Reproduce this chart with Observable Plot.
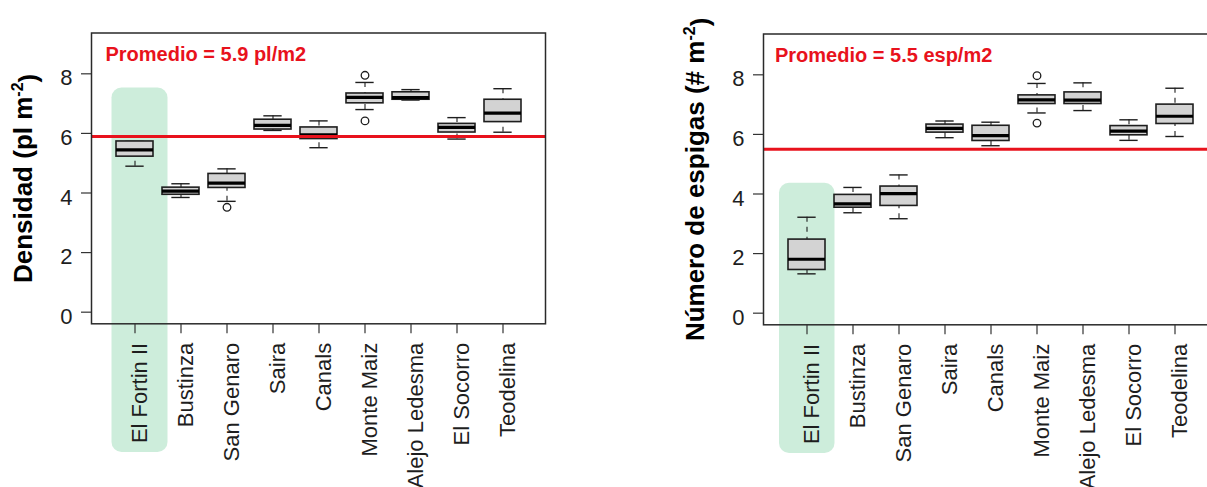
<!DOCTYPE html>
<html>
<head>
<meta charset="utf-8">
<script src="https://cdn.jsdelivr.net/npm/d3@7"></script>
<script src="https://cdn.jsdelivr.net/npm/@observablehq/plot@0.6"></script>
<style>
  html, body { margin: 0; padding: 0; background: #fff; }
  #wrap { position: relative; width: 1207px; height: 487px; overflow: hidden; background: #fff; }
  .panel { position: absolute; top: 0; width: 600px; height: 487px; }
  .panel svg { max-width: none !important; display: block; }
</style>
</head>
<body>
<div id="wrap">
  <div class="panel" id="left" style="left:0px"></div>
  <div class="panel" id="right" style="left:672px; top:0.7px"></div>
</div>
<script>
// Sitios (localidades)
const sites = ["El Fortin II", "Bustinza", "San Genaro", "Saira", "Canals",
               "Monte Maiz", "Alejo Ledesma", "El Socorro", "Teodelina"];

// Densidad de plantas (pl m-2): resumen de cada caja
const densLow    = [4.90, 3.85, 3.72, 6.10, 5.52, 6.80, 7.12, 5.81, 6.04];
const densQ1     = [5.22, 3.94, 4.17, 6.13, 5.81, 7.01, 7.13, 6.03, 6.38];
const densMedian = [5.45, 4.06, 4.33, 6.27, 5.95, 7.21, 7.20, 6.20, 6.68];
const densQ3     = [5.73, 4.18, 4.64, 6.46, 6.20, 7.34, 7.38, 6.32, 7.13];
const densHigh   = [5.73, 4.31, 4.81, 6.59, 6.42, 7.71, 7.47, 6.53, 7.50];
const densOutSite  = ["San Genaro", "Monte Maiz", "Monte Maiz"];
const densOutValue = [3.52, 7.95, 6.42];
const densMean = 5.9;

// Número de espigas (# m-2): resumen de cada caja
const espLow    = [1.32, 3.37, 3.17, 5.89, 5.62, 6.72, 6.80, 5.80, 5.93];
const espQ1     = [1.45, 3.54, 3.60, 6.06, 5.78, 7.02, 7.02, 5.97, 6.35];
const espMedian = [1.81, 3.67, 4.01, 6.20, 5.96, 7.16, 7.15, 6.11, 6.61];
const espQ3     = [2.47, 3.97, 4.25, 6.33, 6.29, 7.31, 7.41, 6.28, 7.00];
const espHigh   = [3.22, 4.22, 4.64, 6.45, 6.41, 7.71, 7.73, 6.49, 7.55];
const espOutSite  = ["Monte Maiz", "Monte Maiz"];
const espOutValue = [7.97, 6.38];
const espMean = 5.5;

const yTicks = [0, 2, 4, 6, 8];
const highlightSite = "El Fortin II";

const RED = "#e8121c";
const INK = "#1e1e1e";
const FONT = "'Liberation Sans', Arial, Helvetica, sans-serif";

function boxPanel(cfg) {
  const rows = sites.map((s, i) => ({
    site: s, low: cfg.low[i], q1: cfg.q1[i], median: cfg.median[i], q3: cfg.q3[i], high: cfg.high[i]
  }));
  const outliers = cfg.outSite.map((s, i) => ({site: s, value: cfg.outValue[i]}));
  const meanText = `Promedio = ${cfg.mean} ${cfg.unit}`;
  const title = `${cfg.titleMain}-2)`;

  const width = 600, height = 487;
  const mL = 91, mR = 55, mT = 32.5, mB = 163.7;
  const step = (width - mL - mR) / (sites.length - 0.2 + 2 * 0.46);
  const staple = step * 0.8 / 4;

  const svg = Plot.plot({
    width, height,
    marginLeft: mL, marginRight: mR, marginTop: mT, marginBottom: mB,
    style: {fontFamily: FONT, fontSize: "22px", color: INK, background: "transparent", overflow: "visible"},
    x: {type: "band", domain: sites, paddingInner: 0.2, paddingOuter: 0.46},
    y: {domain: [-0.39, 9.37]},
    marks: [
      // franja destacada detrás del sitio
      Plot.barY([highlightSite], {
        x: d => d, y1: cfg.hlTop, y2: -4.71, fill: "#cdeddb", rx: 10,
        insetLeft: cfg.hlInsetL, insetRight: cfg.hlInsetR
      }),
      // bigotes (línea discontinua desde el extremo hasta la caja)
      Plot.ruleX(rows, {x: "site", y1: "high", y2: "q3", stroke: INK, strokeWidth: 1.1, strokeDasharray: "5,5"}),
      Plot.ruleX(rows, {x: "site", y1: "low", y2: "q1", stroke: INK, strokeWidth: 1.1, strokeDasharray: "5,5"}),
      Plot.tickY(rows, {x: "site", y: "high", stroke: INK, strokeWidth: 1.4, insetLeft: staple, insetRight: staple}),
      Plot.tickY(rows, {x: "site", y: "low", stroke: INK, strokeWidth: 1.4, insetLeft: staple, insetRight: staple}),
      // cajas
      Plot.barY(rows, {x: "site", y1: "q1", y2: "q3", fill: "#d3d3d3", stroke: INK, strokeWidth: 1.6}),
      Plot.tickY(rows, {x: "site", y: "median", stroke: "#000", strokeWidth: 3.2}),
      Plot.dot(outliers, {x: "site", y: "value", r: 3.8, stroke: INK, strokeWidth: 1.3, fill: "none"}),
      // promedio general
      Plot.ruleY([cfg.mean], {stroke: RED, strokeWidth: 3}),
      Plot.text([meanText], {
        frameAnchor: "top-left", textAnchor: "start", lineAnchor: "top",
        dx: cfg.noteDx, dy: 13.5, fill: RED, fontWeight: "bold", fontSize: 20
      }),
      Plot.frame({stroke: "#2a2a2a", strokeWidth: 1.5}),
      // ejes
      Plot.axisY({ticks: yTicks, tickSize: 10, tickFormat: () => "", label: null, stroke: "#333", strokeWidth: 1.2}),
      Plot.axisX({tickSize: 10, tickFormat: () => "", label: null, stroke: "#333", strokeWidth: 1.2}),
      Plot.text(yTicks, {
        y: d => d, text: d => String(d), frameAnchor: "left", textAnchor: "end",
        lineAnchor: "middle", dx: -19, dy: 4.5, fontSize: 22, fill: INK
      }),
      Plot.text(sites, {
        x: d => d, frameAnchor: "bottom", rotate: -90, textAnchor: "end",
        lineAnchor: "middle", dx: 4.5, dy: 19, fontSize: 22, fill: INK
      }),
      Plot.text([title], {
        frameAnchor: "left", rotate: -90, textAnchor: "middle", lineAnchor: "middle",
        dx: -68, fontSize: 26, fontWeight: "bold", fill: "#000"
      })
    ]
  });

  // exponente del título del eje
  svg.querySelectorAll("text").forEach(t => {
    if (t.textContent === title) {
      t.textContent = "";
      const ns = "http://www.w3.org/2000/svg";
      const a = document.createElementNS(ns, "tspan");
      a.textContent = cfg.titleMain;
      const b = document.createElementNS(ns, "tspan");
      b.textContent = "-2";
      b.setAttribute("font-size", "16");
      b.setAttribute("dy", "-0.55em");
      const c = document.createElementNS(ns, "tspan");
      c.textContent = ")";
      c.setAttribute("dy", "0.55em");
      t.append(a, b, c);
    }
  });
  return svg;
}

document.getElementById("left").append(boxPanel({
  low: densLow, q1: densQ1, median: densMedian, q3: densQ3, high: densHigh,
  outSite: densOutSite, outValue: densOutValue, mean: densMean, unit: "pl/m2",
  titleMain: "Densidad (pl m", hlTop: 7.52, hlInsetL: -4.5, hlInsetR: -14.5, noteDx: 14
}));

document.getElementById("right").append(boxPanel({
  low: espLow, q1: espQ1, median: espMedian, q3: espQ3, high: espHigh,
  outSite: espOutSite, outValue: espOutValue, mean: espMean, unit: "esp/m2",
  titleMain: "Número de espigas (# m", hlTop: 4.36, hlInsetL: -9, hlInsetR: -9.5, noteDx: 11.5
}));
</script>
</body>
</html>
